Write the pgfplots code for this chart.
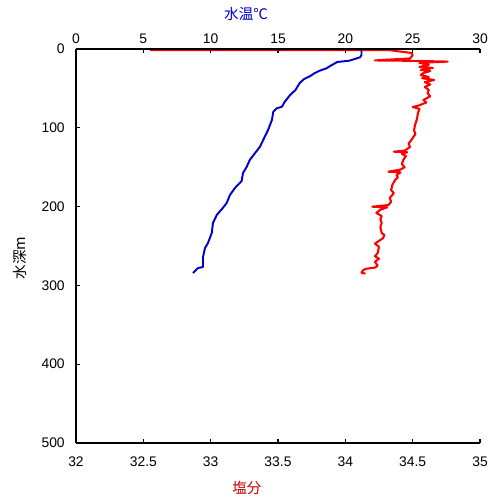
\documentclass[border=0pt]{standalone}
\usepackage{fontspec}
\setmainfont{Liberation Sans}
\newfontfamily\cjk{Noto Sans CJK JP}
\usepackage{pgfplots}
\usepackage{pgfplotstable}
\pgfplotsset{compat=1.18}
\definecolor{tblue}{RGB}{0,0,204}
\definecolor{sred}{RGB}{255,0,0}
\definecolor{lred}{RGB}{204,0,0}

\pgfplotstableread{
t d
21.2 1.5
21.2 7.6
21.1 10.5
20.3 14.8
19.4 16.5
19.0 20.3
18.6 24.5
18.1 27.5
17.7 30.8
17.4 34.3
16.9 38.5
16.6 43.5
16.3 52
15.9 58.4
15.5 66.9
15.3 73.2
14.9 75.3
14.65 79.6
14.55 90
14.26 102.8
13.9 115.5
13.66 124
13.3 132
12.9 140.9
12.68 149.4
12.4 157.4
12.3 167.5
11.8 176.4
11.43 185.3
11.19 195.4
10.9 201.8
10.45 210.7
10.17 220.8
10.08 233.5
9.8 246.2
9.58 252.5
9.43 264
9.43 276.6
9.06 278
8.69 284.3
}\temptable

\pgfplotstableread{
s d
32.55 1.5
34.33 1.5
34.49 5
34.50 8
34.48 12
34.22 14.5
34.50 15
34.76 16
34.55 17.5
34.62 20
34.55 22.8
34.65 24
34.56 26.6
34.63 28
34.58 30.5
34.56 33
34.62 35.5
34.57 37
34.66 39.3
34.59 42
34.63 45
34.59 48.2
34.62 52
34.61 55.8
34.63 60
34.58 64.7
34.60 68
34.54 72
34.50 73.6
34.55 76
34.54 81
34.53 90
34.52 95
34.51 102.8
34.52 108
34.49 115.5
34.47 120
34.48 124.4
34.44 129
34.36 130.3
34.46 131
34.42 133
34.45 136
34.43 140.9
34.42 146
34.44 150
34.41 153
34.32 155.7
34.41 156.5
34.38 160
34.39 163
34.37 166.2
34.35 172
34.34 178.9
34.36 183
34.33 189
34.34 194
34.32 198
34.20 200.1
34.31 201
34.26 204
34.23 208
34.27 212
34.26 216
34.27 220.8
34.26 226
34.27 233.5
34.29 236
34.28 240
34.22 247
34.25 251
34.24 258.9
34.22 263
34.25 266
34.22 270
34.24 275
34.22 277.4
34.15 279
34.13 281
34.12 284
34.15 285
}\saltable

\begin{document}
\begin{tikzpicture}
\pgfplotsset{every axis/.append style={
  scale only axis, width=290.88pt, height=283.68pt,
  ymin=0, ymax=500, y dir=reverse, clip=false,
  tick align=inside, major tick length=3pt,
  tick style={black, line width=1pt},
  axis line style={black, line width=1.4pt},
  tick label style={font=\fontsize{10}{12}\selectfont},
  /pgf/number format/assume math mode=true}}
\begin{axis}[
  xmin=32, xmax=35,
  xtick={32,32.5,33,33.5,34,34.5,35},
  xticklabels={32,32.5,33,33.5,34,34.5,35},
  ytick={0,100,200,300,400,500},
  axis x line*=bottom, axis y line*=left,
  xticklabel style={yshift=-6.7pt},
  yticklabel style={xshift=-4.6pt},
]
\addplot[sred, line width=1.5pt, line join=round] table[x=s, y=d] {\saltable};
\coordinate (ll) at (axis description cs:0,0);
\coordinate (ur) at (axis description cs:1,1);
\node[text=lred, font=\cjk\fontsize{10.5}{12}\selectfont] at (axis description cs:0.423,-0.1142) {塩分};
\node[text=tblue, font=\cjk\fontsize{10.5}{12}\selectfont] at (axis description cs:0.421,1.0888) {水温℃};
\node[rotate=90, font=\cjk\fontsize{10.5}{12}\selectfont] at (axis description cs:-0.1386,0.4695) {水深m};
\end{axis}
\begin{axis}[
  xmin=0, xmax=30,
  xtick={0,5,10,15,20,25,30},
  axis x line*=top, axis y line=none,
]
\addplot[tblue, line width=1.4pt, line join=round] table[x=t, y=d] {\temptable};
\end{axis}
\pgfresetboundingbox
\path ([shift={(-54.72pt,-41.04pt)}]ll) rectangle ([shift={(14.4pt,35.28pt)}]ur);
\end{tikzpicture}
\end{document}
